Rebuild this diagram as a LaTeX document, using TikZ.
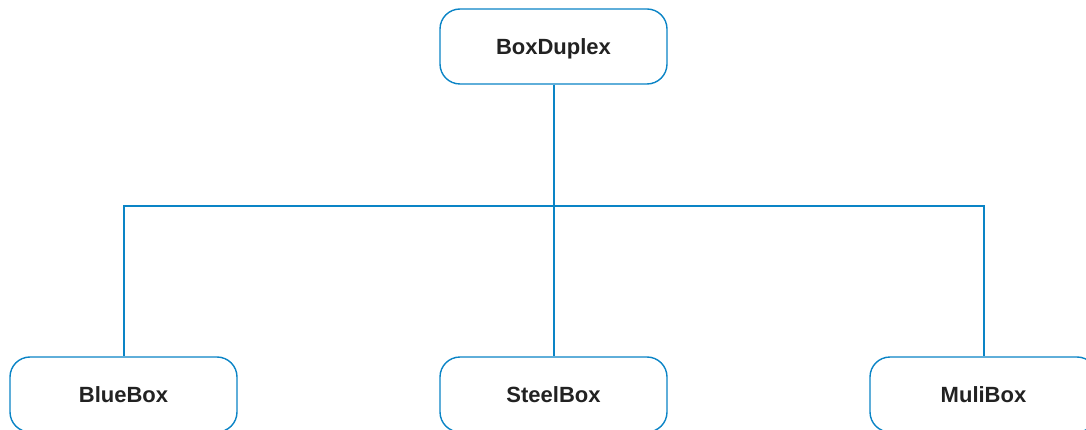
\documentclass[tikz,border=0pt]{standalone}
\usepackage{fontspec}
\setmainfont{Liberation Sans}
\usetikzlibrary{positioning}
\usepackage{xcolor}
\definecolor{linkblue}{HTML}{0A84C6}
\definecolor{textdark}{HTML}{222222}

\begin{document}
\begin{tikzpicture}[x=1pt, y=-1pt,
	box/.style={draw=linkblue, line width=1.4pt, rounded corners=20pt, fill=white,
		minimum width=227pt, minimum height=75pt, inner sep=0pt,
		text height=15.5pt, text depth=0pt,
		font=\fontsize{22}{26}\selectfont\bfseries, text=textdark},
	link/.style={draw=linkblue, line width=2pt}]

	\useasboundingbox (0,0) rectangle (1086,430);
	\clip (0,0) rectangle (1086,430);

	\coordinate (bus) at (553.5, 206);

	\node[box] (dup) at (553.5, 46.5) {BoxDuplex};

	\node[box] (blue) at (123.5, 394.5) {BlueBox};
	\node[box] (steel) at (553.5, 394.5) {SteelBox};
	\node[box] (muli) at (983.5, 394.5) {MuliBox};

	\draw[link] (dup.south) -- (bus);
	\draw[link] (bus) -| (blue.north);
	\draw[link] (bus) -| (muli.north);
	\draw[link] (bus) -- (steel.north);
\end{tikzpicture}
\end{document}
